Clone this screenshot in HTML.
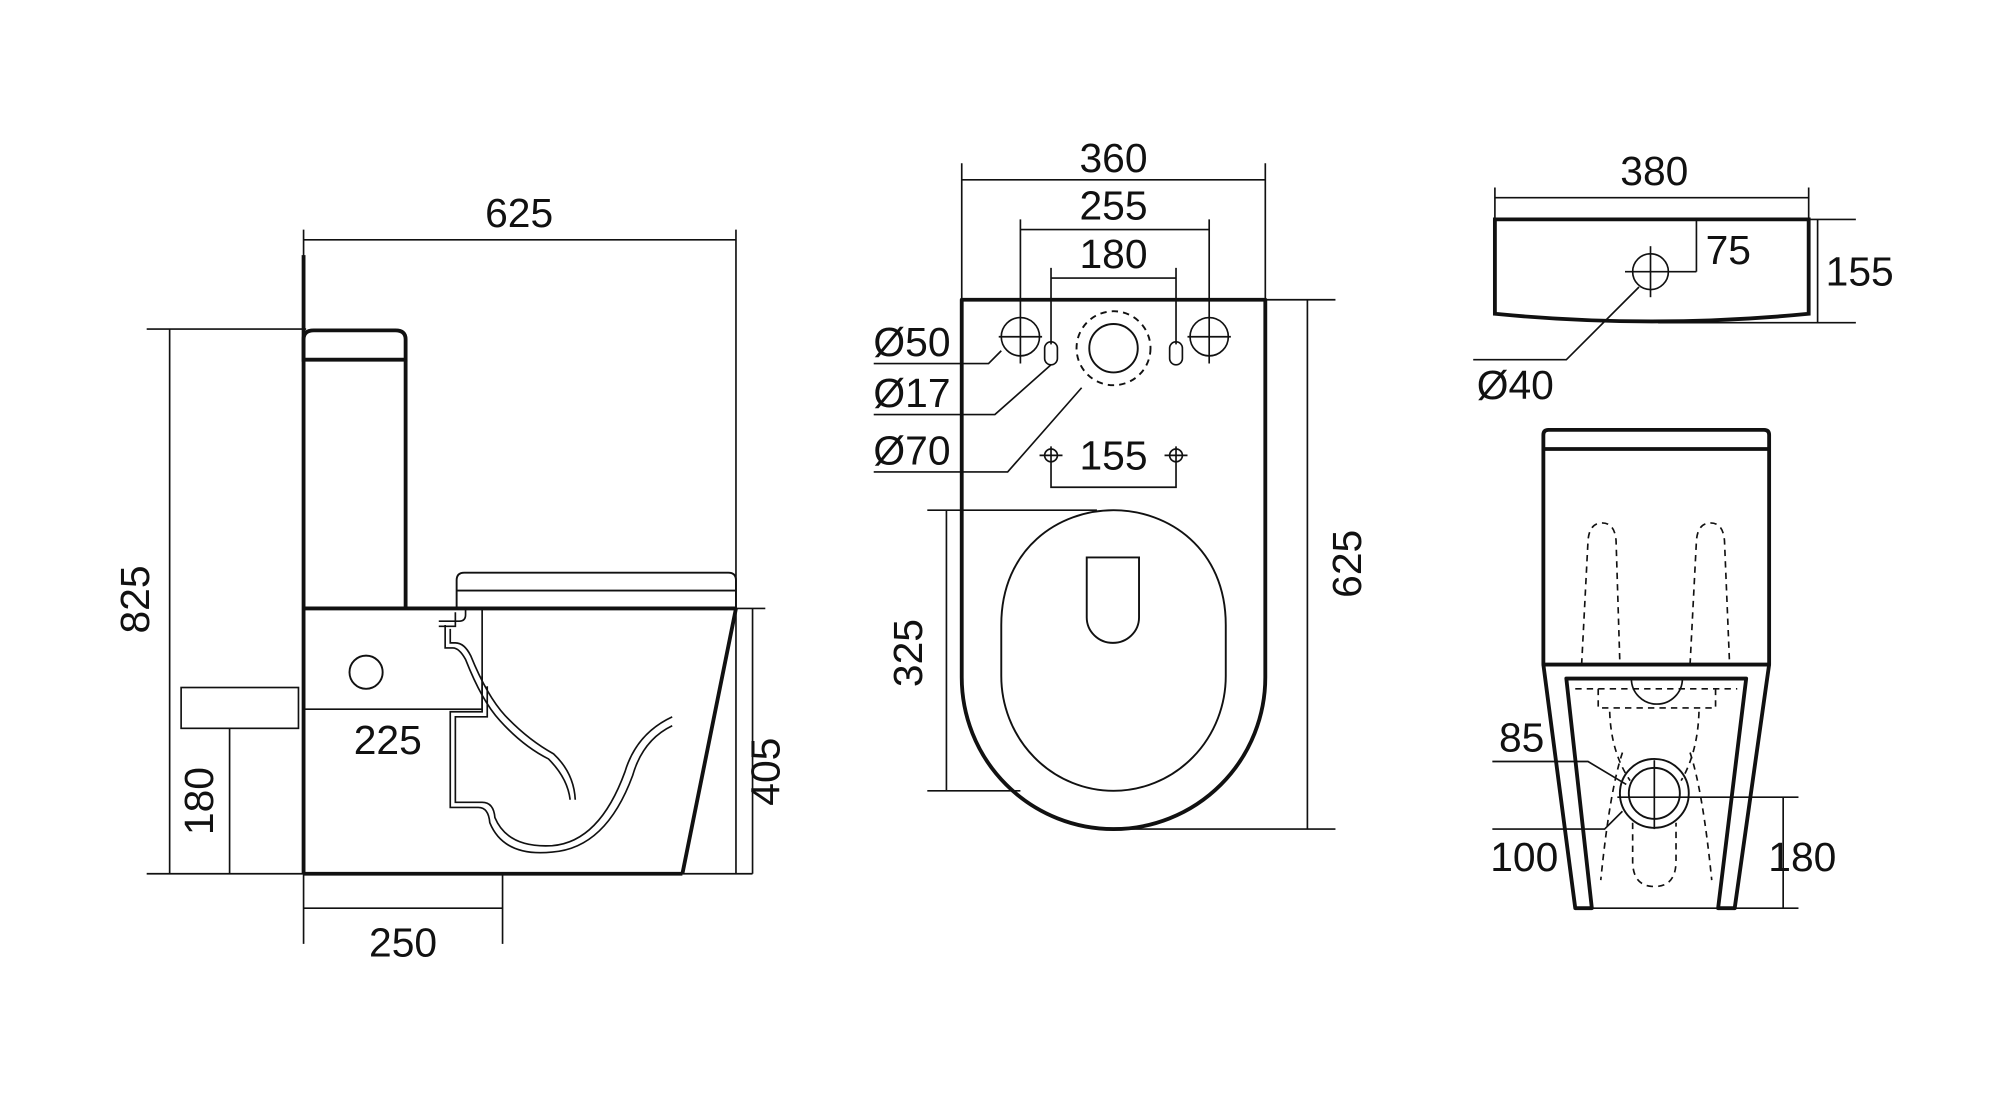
<!DOCTYPE html>
<html><head><meta charset="utf-8"><style>
html,body{margin:0;padding:0;background:#fff;}
svg{display:block;}
text{font-family:"Liberation Sans",sans-serif;font-size:32px;fill:#111;}
</style></head><body>
<svg width="2000" height="1099" viewBox="0 0 1568 861.6" preserveAspectRatio="none" xmlns="http://www.w3.org/2000/svg">
<g fill="none" stroke="#111" stroke-width="1.3">
<line x1="238" y1="188" x2="577" y2="188"/>
<line x1="577" y1="180" x2="577" y2="685"/>
<line x1="238" y1="180" x2="238" y2="740"/>
<line x1="133" y1="258" x2="133" y2="685"/>
<line x1="115" y1="258" x2="240" y2="258"/>
<line x1="115" y1="685" x2="590" y2="685"/>
<line x1="590" y1="477" x2="590" y2="685"/>
<line x1="577" y1="477" x2="600" y2="477"/>
<line x1="180" y1="571" x2="180" y2="685"/>
<rect x="142" y="539" width="92" height="32"/>
<line x1="238" y1="712" x2="394" y2="712"/>
<line x1="394" y1="685" x2="394" y2="740"/>
<g stroke-width="3">
<line x1="238" y1="200" x2="238" y2="685"/>
<path d="M238,282 V266 Q238,259 246,259 H310 Q318,259 318,266 V282 Z"/>
<line x1="318" y1="282" x2="318" y2="477"/>
<line x1="238" y1="477" x2="577" y2="477"/>
<line x1="238" y1="685" x2="535" y2="685"/>
<line x1="577" y1="477" x2="535" y2="685"/>
</g>
<path d="M358,477 V455 Q358,449 364,449 H571 Q577,449 577,455 V477" stroke-width="1.5"/>
<line x1="358" y1="463" x2="577" y2="463" stroke-width="1.5"/>
<path d="M238,556 H378 V477"/>
<circle cx="287" cy="527" r="13" stroke-width="1.5"/>
<path d="M344,487 H360 Q365,487 365,482 V477" />
<path d="M344,491 H357 V480"/>
<path d="M349,490 V508 H355 Q360,508 365,517 Q378,550 392,565 Q410,585 430,595 Q445,610 447,627"/>
<path d="M353,493 V504 H357 Q364,504 369,514 Q382,546 396,561 Q414,580 434,591 Q450,606 451,627"/>
<path d="M378,530 V558 H353 V633 H375 Q383,633 384,645 Q395,672 433,668 Q475,665 496,608 Q504,580 527,569" />
<path d="M382,538 V562 H357 V629 H378 Q387,629 388,641 Q398,665 433,663 Q470,660 490,605 Q499,575 527,562"/>
<line x1="754" y1="141" x2="992" y2="141"/>
<line x1="754" y1="128" x2="754" y2="235"/>
<line x1="992" y1="128" x2="992" y2="235"/>
<line x1="800" y1="180" x2="948" y2="180"/>
<line x1="800" y1="172" x2="800" y2="285"/>
<line x1="948" y1="172" x2="948" y2="285"/>
<line x1="824" y1="218" x2="922" y2="218"/>
<line x1="824" y1="210" x2="824" y2="270"/>
<line x1="922" y1="210" x2="922" y2="270"/>
<path d="M754,235 H992 V531 A119,119 0 0 1 754,531 Z" stroke-width="3" stroke-linejoin="round"/>
<path d="M785,490 C785,430 830,400 873,400 C916,400 961,430 961,490 L961,530 A88,90 0 0 1 785,530 Z" stroke-width="1.5"/>
<path d="M852,437 H893 V484 A20.5,20 0 0 1 852,484 Z" stroke-width="1.5"/>
<circle cx="800" cy="264" r="15"/><line x1="783" y1="264" x2="817" y2="264"/>
<circle cx="948" cy="264" r="15"/><line x1="931" y1="264" x2="965" y2="264"/>
<rect x="819" y="268" width="10" height="18" rx="5"/>
<rect x="917" y="268" width="10" height="18" rx="5"/>
<circle cx="873" cy="273" r="29" stroke-dasharray="5,4" stroke-width="1.5"/>
<circle cx="873" cy="273" r="19" stroke-width="1.5"/>
<path d="M685,285 H775 L785,275"/>
<path d="M685,325 H780 L824,286"/>
<path d="M685,370 H790 L848,304"/>
<circle cx="824" cy="357" r="5"/><line x1="815" y1="357" x2="833" y2="357"/>
<circle cx="922" cy="357" r="5"/><line x1="913" y1="357" x2="931" y2="357"/>
<path d="M824,350 V382 H922 V350"/>
<line x1="742" y1="400" x2="742" y2="620"/>
<line x1="727" y1="400" x2="860" y2="400"/>
<line x1="727" y1="620" x2="800" y2="620"/>
<line x1="1025" y1="235" x2="1025" y2="650"/>
<line x1="992" y1="235" x2="1047" y2="235"/>
<line x1="873" y1="650" x2="1047" y2="650"/>
<line x1="1172" y1="155" x2="1418" y2="155"/>
<line x1="1172" y1="147" x2="1172" y2="172"/>
<line x1="1418" y1="147" x2="1418" y2="172"/>
<path d="M1172,172 H1418 V246 Q1295,258 1172,246 Z" stroke-width="3"/>
<line x1="1425" y1="172" x2="1425" y2="253"/>
<line x1="1418" y1="172" x2="1455" y2="172"/>
<line x1="1300" y1="253" x2="1455" y2="253"/>
<circle cx="1294" cy="213" r="14"/>
<line x1="1294" y1="193" x2="1294" y2="233"/>
<line x1="1274" y1="213" x2="1330" y2="213"/>
<line x1="1330" y1="172" x2="1330" y2="213"/>
<path d="M1155,282 H1228 L1285,225"/>
<g stroke-width="3" stroke-linejoin="round">
<path d="M1210,352 V341 Q1210,337 1214,337 H1383 Q1387,337 1387,341 V352 Z"/>
<path d="M1210,352 V521 H1387 V352"/>
<path d="M1210,521 L1235,712 H1248 L1228,532 H1369 L1347,712 H1360 L1387,521"/>
</g>
<g stroke-dasharray="5,4">
<path d="M1240,521 L1245,424 Q1246,410 1256,410 Q1266,410 1267,424 L1270,521"/>
<path d="M1325,521 L1330,424 Q1331,410 1341,410 Q1351,410 1352,424 L1356,521"/>
<path d="M1235,540 H1362"/>
<path d="M1253,540 V555 H1345 V540"/>
<path d="M1262,558 Q1263,590 1278,612"/>
<path d="M1332,558 Q1331,590 1318,612"/>
<path d="M1272,590 Q1262,620 1255,690"/>
<path d="M1325,590 Q1335,620 1342,690"/>
<path d="M1280,645 V675 Q1280,695 1297,695 Q1314,695 1314,675 V645"/>
</g>
<path d="M1279,532 A20,20 0 0 0 1319,532"/>
<circle cx="1297" cy="622" r="27" stroke-width="1.5"/>
<circle cx="1297" cy="622" r="20" stroke-width="1.5"/>
<line x1="1297" y1="596" x2="1297" y2="650"/>
<line x1="1268" y1="625" x2="1410" y2="625"/>
<line x1="1235" y1="712" x2="1410" y2="712"/>
<line x1="1398" y1="625" x2="1398" y2="712"/>
<path d="M1170,597 H1245 L1275,615"/>
<path d="M1170,650 H1258 L1272,636"/>
</g>
<text x="407" y="178" text-anchor="middle">625</text>
<text transform="translate(117,470) rotate(-90)" text-anchor="middle">825</text>
<text transform="translate(167,628) rotate(-90)" text-anchor="middle">180</text>
<text x="304" y="591" text-anchor="middle">225</text>
<text transform="translate(611,605) rotate(-90)" text-anchor="middle">405</text>
<text x="316" y="750" text-anchor="middle">250</text>
<text x="873" y="135" text-anchor="middle">360</text>
<text x="873" y="172" text-anchor="middle">255</text>
<text x="873" y="210" text-anchor="middle">180</text>
<text x="715" y="279" text-anchor="middle">Ø50</text>
<text x="715" y="319" text-anchor="middle">Ø17</text>
<text x="715" y="364" text-anchor="middle">Ø70</text>
<text x="873" y="368" text-anchor="middle">155</text>
<text transform="translate(723,512) rotate(-90)" text-anchor="middle">325</text>
<text transform="translate(1067,442) rotate(-90)" text-anchor="middle">625</text>
<text x="1297" y="145" text-anchor="middle">380</text>
<text x="1355" y="207" text-anchor="middle">75</text>
<text x="1458" y="224" text-anchor="middle">155</text>
<text x="1188" y="313" text-anchor="middle">Ø40</text>
<text x="1193" y="589" text-anchor="middle">85</text>
<text x="1195" y="683" text-anchor="middle">100</text>
<text x="1413" y="683" text-anchor="middle">180</text>
</svg>
</body></html>
